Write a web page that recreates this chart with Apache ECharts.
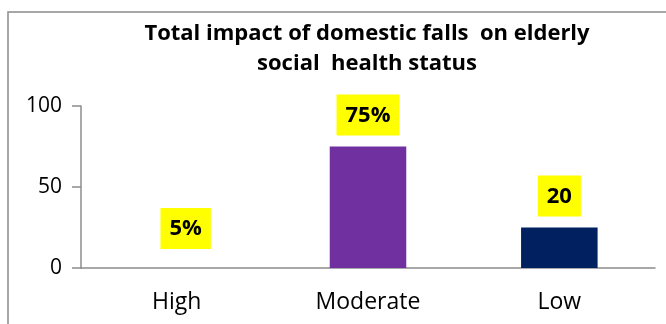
<!DOCTYPE html>
<html><head><meta charset="utf-8">
<script src="https://cdn.jsdelivr.net/npm/echarts@6/dist/echarts.min.js"></script>
<style>html,body{margin:0;padding:0;background:#fff}#c{width:666px;height:324px}</style>
</head><body><div id="c"></div>
<script>
const categories = ['High', 'Moderate', 'Low'];
const values = [5, 75, 25];
const labels = ['5%', '75%', '20'];
const yTicks = [0, 50, 100];
const titleText = 'Total impact of domestic falls  on elderly\nsocial  health status';

const FONT = 'Open Sans';
const barColors = ['rgba(0,0,0,0)', '#7030A0', '#002060'];
const labelOffsets = [[9, 0], [0, 0], [0, 0]];

const chart = echarts.init(document.getElementById('c'));
chart.setOption({
  animation: false,
  title: {
    text: titleText,
    left: 362, top: 14, textAlign: 'center',
    textStyle: { fontFamily: FONT, fontWeight: 'bold', fontSize: 22, lineHeight: 30, color: '#000' }
  },
  graphic: [{
    type: 'rect', shape: { x: 8, y: 12, width: 700, height: 400 },
    style: { fill: 'none', stroke: '#8a8a8a', lineWidth: 1.5 }, silent: true, z: -1
  }],
  grid: { left: 81, right: 11, top: 106, bottom: 56 },
  xAxis: {
    type: 'category', data: categories,
    axisLine: { lineStyle: { color: '#8c8c8c', width: 1.5 } },
    axisTick: { show: false },
    axisLabel: { fontFamily: FONT, fontSize: 23, color: '#000', margin: 23 }
  },
  yAxis: {
    type: 'value', min: yTicks[0], max: yTicks[yTicks.length - 1], interval: yTicks[1] - yTicks[0],
    axisLine: { show: true, lineStyle: { color: '#8c8c8c', width: 1.5 } },
    axisTick: { show: true, length: 9, lineStyle: { color: '#8c8c8c', width: 1.5 } },
    splitLine: { show: false },
    axisLabel: { fontFamily: FONT, fontSize: 21, color: '#000', margin: 19 }
  },
  series: [{
    type: 'bar', barWidth: '40%',
    data: values.map((v, i) => ({ value: v, itemStyle: { color: barColors[i] }, label: { offset: labelOffsets[i] } })),
    label: {
      show: true, position: 'top', distance: 11,
      formatter: p => labels[p.dataIndex],
      backgroundColor: '#FFFF00', padding: [10, 9, 9, 9],
      fontFamily: FONT, fontWeight: 'bold', fontSize: 22, color: '#000'
    }
  }]
});
</script></body></html>
